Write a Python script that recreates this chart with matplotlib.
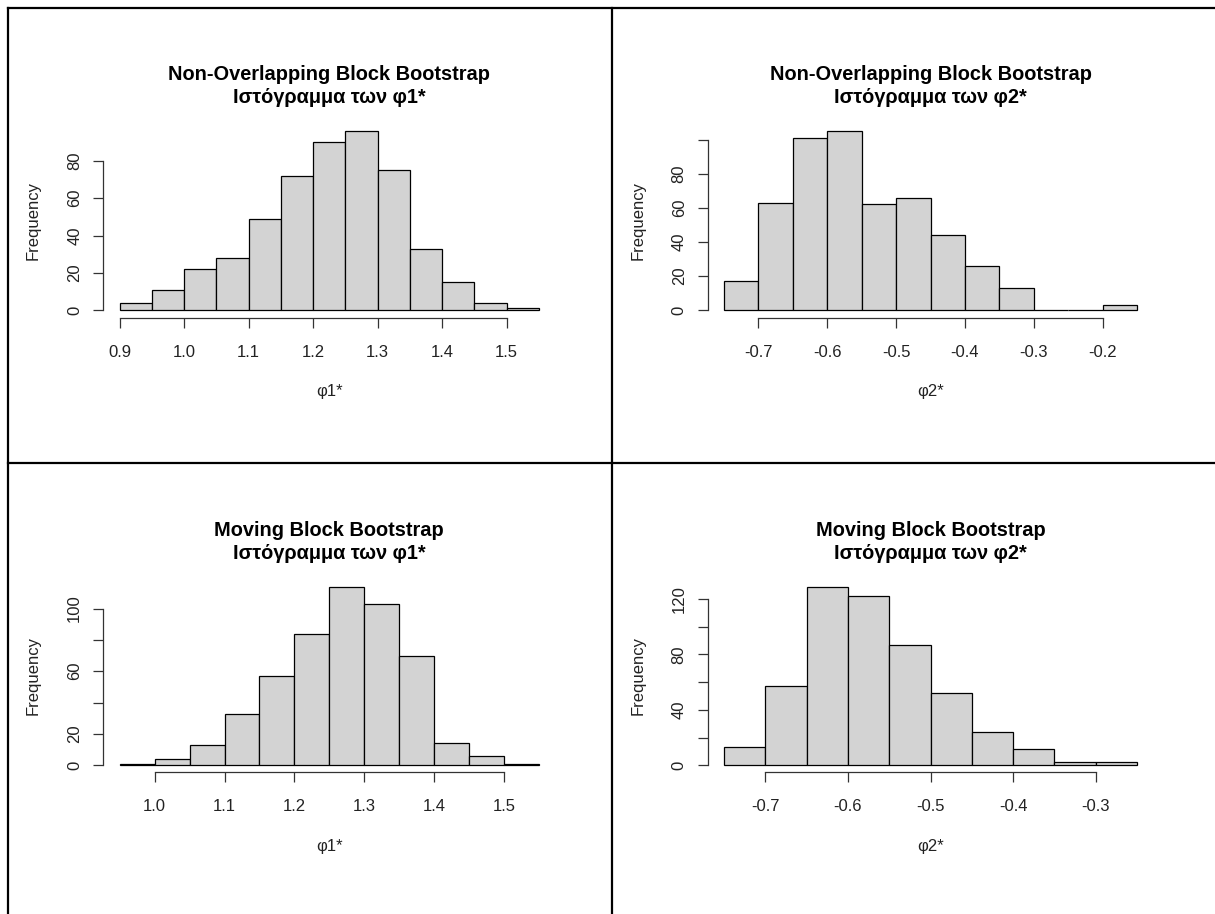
import numpy as np
import matplotlib
matplotlib.use('Agg')
import matplotlib.pyplot as plt
from matplotlib.lines import Line2D

plt.rcParams['font.family'] = ['Liberation Sans', 'DejaVu Sans']

# bootstrap histograms: bin edges and counts
nbb_phi1_breaks = np.round(np.arange(0.90, 1.551, 0.05), 2)
nbb_phi1_counts = [4, 11, 22, 28, 49, 72, 90, 96, 75, 33, 15, 4, 1]
nbb_phi2_breaks = np.round(np.arange(-0.75, -0.149, 0.05), 2)
nbb_phi2_counts = [17, 63, 101, 105, 62, 66, 44, 26, 13, 0, 0, 3]
mbb_phi1_breaks = np.round(np.arange(0.95, 1.551, 0.05), 2)
mbb_phi1_counts = [1, 4, 13, 33, 57, 84, 114, 103, 70, 14, 6, 1]
mbb_phi2_breaks = np.round(np.arange(-0.75, -0.249, 0.05), 2)
mbb_phi2_counts = [13, 57, 129, 122, 87, 52, 24, 12, 2, 2]

titles = ['Non-Overlapping Block Bootstrap\nΙστόγραμμα των φ1*',
          'Non-Overlapping Block Bootstrap\nΙστόγραμμα των φ2*',
          'Moving Block Bootstrap\nΙστόγραμμα των φ1*',
          'Moving Block Bootstrap\nΙστόγραμμα των φ2*']
xlabels = ['φ1*', 'φ2*', 'φ1*', 'φ2*']
xticks = [[0.9, 1.0, 1.1, 1.2, 1.3, 1.4, 1.5],
          [-0.7, -0.6, -0.5, -0.4, -0.3, -0.2],
          [1.0, 1.1, 1.2, 1.3, 1.4, 1.5],
          [-0.7, -0.6, -0.5, -0.4, -0.3]]
yticks = [[0, 20, 40, 60, 80],
          [0, 20, 40, 60, 80, 100],
          [0, 20, 40, 60, 80, 100],
          [0, 20, 40, 60, 80, 100, 120]]
ylabels_shown = [['0', '20', '40', '60', '80'],
                 ['0', '20', '40', '60', '80', ''],
                 ['0', '20', '', '60', '', '100'],
                 ['0', '', '40', '', '80', '', '120']]

data = [(nbb_phi1_breaks, nbb_phi1_counts), (nbb_phi2_breaks, nbb_phi2_counts),
        (mbb_phi1_breaks, mbb_phi1_counts), (mbb_phi2_breaks, mbb_phi2_counts)]

W, H = 1215, 914
fig = plt.figure(figsize=(W / 100, H / 100), dpi=100)

# plot regions in pixels (left, right, top, bottom)
cols = [(103, 555.5), (707.5, 1153.5)]
rows = [(123.8, 317.5), (579.5, 772.4)]

for i in range(4):
    x0, x1 = cols[i % 2]
    y0, y1 = rows[i // 2]
    ax = fig.add_axes([x0 / W, 1 - y1 / H, (x1 - x0) / W, (y1 - y0) / H])
    br, cnt = data[i]
    br = np.asarray(br)
    ax.bar(br[:-1], cnt, width=np.diff(br), align='edge', color='#D3D3D3',
           edgecolor='black', linewidth=0.9)
    lo, hi = br[0], br[-1]
    d = 0.04 * (hi - lo)
    ax.set_xlim(lo - d, hi + d)
    m = max(cnt)
    ax.set_ylim(-0.04 * m, 1.04 * m)
    for s in ['top', 'right']:
        ax.spines[s].set_visible(False)
    ax.spines['left'].set_bounds(0, yticks[i][-1])
    ax.spines['bottom'].set_bounds(xticks[i][0], xticks[i][-1])
    for s in ['left', 'bottom']:
        ax.spines[s].set_color('#333333')
        ax.spines[s].set_linewidth(0.9)
    ax.set_xticks(xticks[i])
    ax.set_xticklabels(['%.1f' % v for v in xticks[i]])
    ax.set_yticks(yticks[i])
    ax.set_yticklabels(ylabels_shown[i], rotation=90, va='center')
    ax.tick_params(axis='both', direction='out', length=7, width=0.9,
                   color='#333333', labelsize=12, labelcolor='#222222')
    ax.tick_params(axis='x', pad=12.5)
    ax.tick_params(axis='y', pad=8)
    ax.set_xlabel(xlabels[i], fontsize=12, labelpad=17.5, color='#222222')
    ax.set_ylabel('Frequency', fontsize=12, labelpad=19, color='#222222')
    ax.set_title(titles[i], fontsize=14.4, fontweight='bold', pad=15,
                 linespacing=1.27)
    ax.patch.set_visible(False)

# table borders around the four panels
lw = 1.6
xl = 8 / W
fig.add_artist(Line2D([xl, 1], [1 - 8 / H, 1 - 8 / H], transform=fig.transFigure,
                      color='black', linewidth=lw))
fig.add_artist(Line2D([xl, 1], [1 - 463 / H, 1 - 463 / H], transform=fig.transFigure,
                      color='black', linewidth=lw))
fig.add_artist(Line2D([xl, xl], [0, 1 - 8 / H], transform=fig.transFigure,
                      color='black', linewidth=lw))
fig.add_artist(Line2D([612 / W, 612 / W], [0, 1 - 8 / H], transform=fig.transFigure,
                      color='black', linewidth=lw))

fig.savefig('out.png', dpi=100)
